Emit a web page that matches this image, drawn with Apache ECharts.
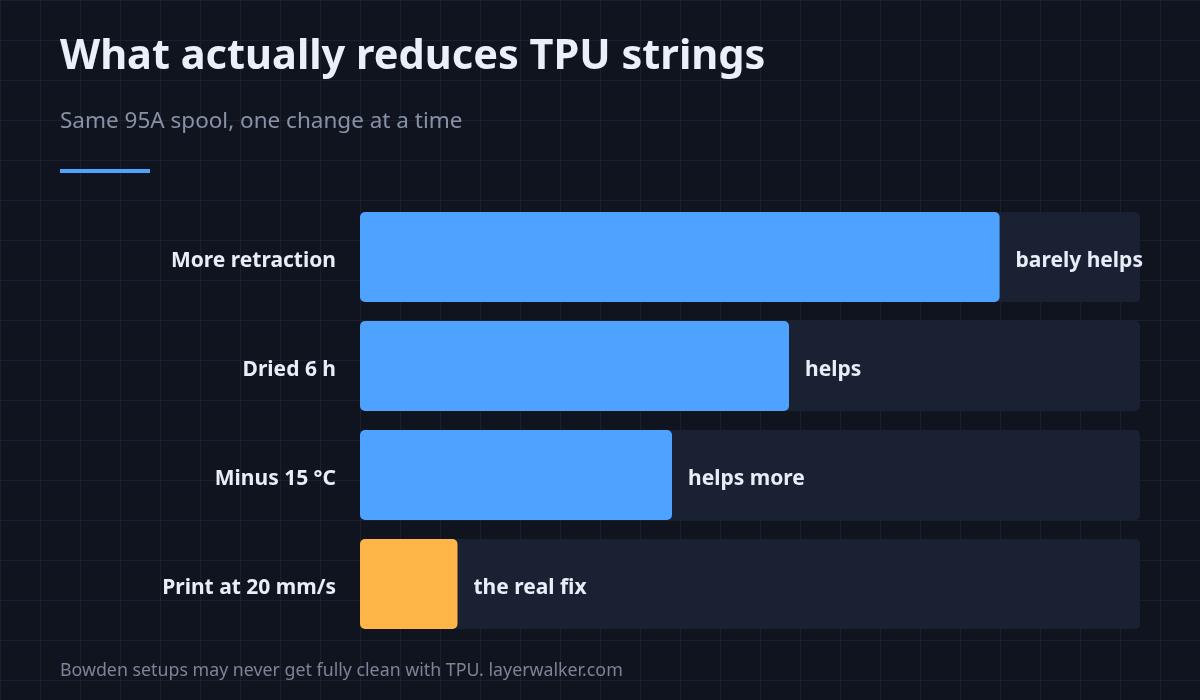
<!DOCTYPE html>
<html>
<head>
<meta charset="utf-8">
<script src="https://cdn.jsdelivr.net/npm/echarts@6/dist/echarts.min.js"></script>
<style>
    html, body {margin: 0; padding: 0; background: #10141f;}
    #main {
        width: 1200px; height: 700px;
        background-color: #10141f;
        background-image:
            linear-gradient(to right, #1b2030 1px, transparent 1px),
            linear-gradient(to bottom, #1b2030 1px, transparent 1px);
        background-size: 40px 40px;
        background-position: 0 0;
    }
</style>
</head>
<body>
<div id="main"></div>
<script>
    var categories = ['More retraction', 'Dried 6 h', 'Minus 15 °C', 'Print at 20 mm/s'];
    var values = [82, 55, 40, 12.5];
    var verdicts = ['barely helps', 'helps', 'helps more', 'the real fix'];
    var barColors = ['#4da3ff', '#4da3ff', '#4da3ff', '#ffb648'];

    var font = '"Noto Sans", "Open Sans", sans-serif';
    var chart = echarts.init(document.getElementById('main'));
    chart.setOption({
        backgroundColor: 'transparent',
        textStyle: {fontFamily: font},
        title: [
            {
                text: 'What actually reduces TPU strings', left: 60, top: 36, padding: 0,
                textStyle: {color: '#eaf0fa', fontSize: 41.5, fontWeight: 'bold', fontFamily: font}
            },
            {
                text: 'Same 95A spool, one change at a time', left: 60, top: 110, padding: 0,
                textStyle: {color: '#8892a6', fontSize: 22.5, fontWeight: 'normal', fontFamily: font}
            },
            {
                text: 'Bowden setups may never get fully clean with TPU. layerwalker.com', left: 60, top: 662, padding: 0,
                textStyle: {color: '#7b8498', fontSize: 17.8, fontWeight: 'normal', fontFamily: font}
            }
        ],
        graphic: [
            {type: 'rect', left: 60, top: 169, shape: {width: 90, height: 4}, style: {fill: '#4da3ff'}}
        ],
        grid: {left: 360, right: 60, top: 202.5, bottom: 61.5},
        xAxis: {
            type: 'value', min: 0, max: 100,
            show: false
        },
        yAxis: {
            type: 'category', inverse: true, data: categories,
            axisLine: {show: false}, axisTick: {show: false}, splitLine: {show: false},
            axisLabel: {
                margin: 24,
                formatter: function (v) {
                    return '{c|' + v + '}';
                },
                rich: {
                    c: {
                        color: '#e8eef8', fontSize: 21, fontWeight: 'bold', fontFamily: font,
                        padding: [8, 0, 0, 0]
                    }
                }
            }
        },
        series: [
            {
                type: 'bar',
                barWidth: 90,
                showBackground: true,
                backgroundStyle: {color: '#1a2133', borderRadius: 5},
                data: values.map(function (v, i) {
                    return {value: v, itemStyle: {color: barColors[i], borderRadius: 5}};
                }),
                label: {
                    show: true, position: 'right', distance: 16, offset: [0, 4],
                    color: '#e8eef8', fontSize: 21, fontWeight: 'bold', fontFamily: font,
                    formatter: function (p) {
                        return verdicts[p.dataIndex];
                    }
                },
                animation: false
            }
        ]
    });
</script>
</body>
</html>
